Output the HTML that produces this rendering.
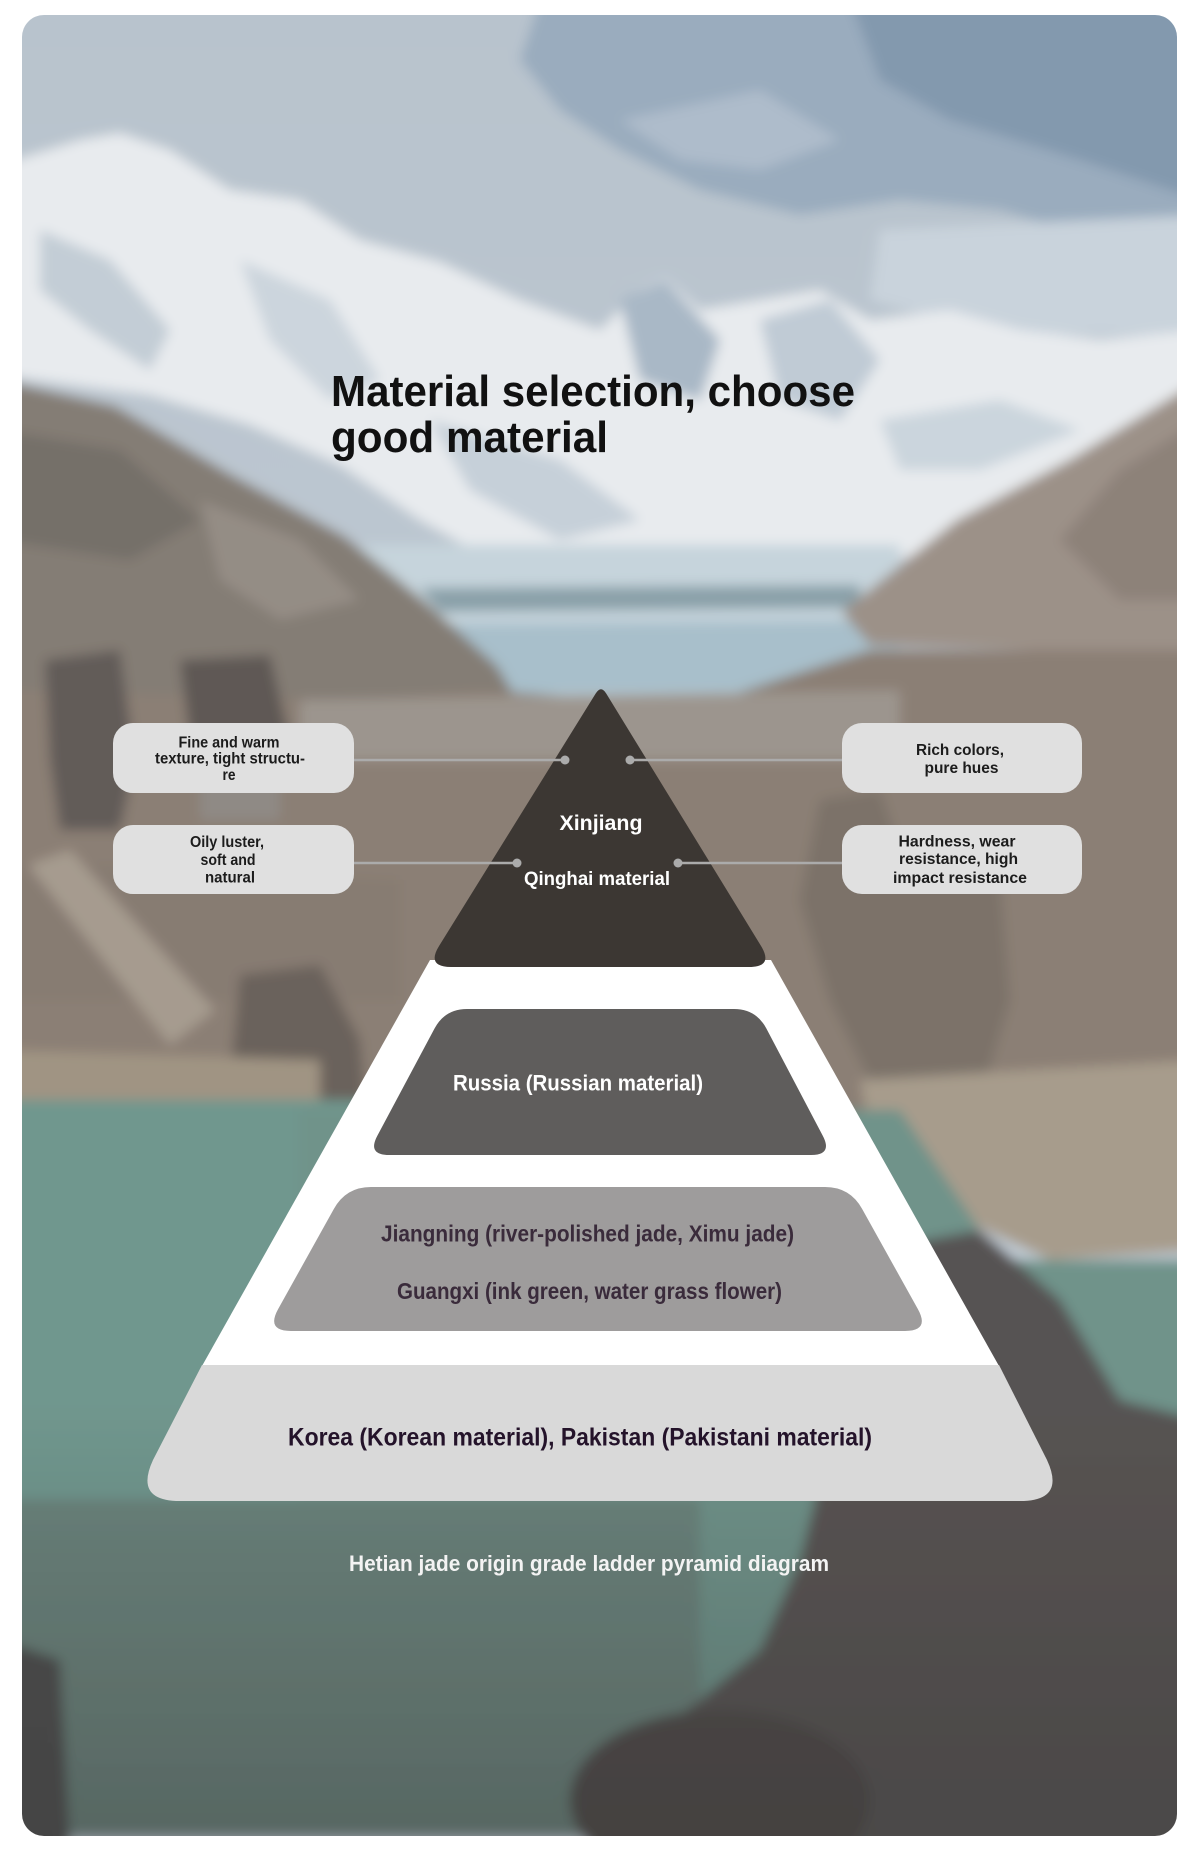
<!DOCTYPE html>
<html><head><meta charset="utf-8"><style>
html,body{margin:0;padding:0;background:#fff;}
svg{display:block;}
text{font-family:"Liberation Sans",Arial,sans-serif;font-weight:bold;}
</style></head><body>
<svg width="1200" height="1849" viewBox="0 0 1200 1849" xmlns="http://www.w3.org/2000/svg">
<defs>
<clipPath id="card"><rect x="22" y="15" width="1155" height="1821" rx="22" ry="22"/></clipPath>
<filter id="soft" x="-5%" y="-5%" width="110%" height="110%"><feGaussianBlur stdDeviation="6"/></filter>
<linearGradient id="dark" x1="0" y1="0" x2="0" y2="1">
<stop offset="0" stop-color="#333" stop-opacity="0"/>
<stop offset="1" stop-color="#333" stop-opacity="0.35"/>
</linearGradient>
<linearGradient id="sky" x1="0" y1="0" x2="0" y2="1">
<stop offset="0" stop-color="#b8c3cd"/>
<stop offset="1" stop-color="#c4ced7"/>
</linearGradient>
</defs>

<g clip-path="url(#card)">
<g filter="url(#soft)">
<rect x="0" y="0" width="1200" height="1849" fill="url(#sky)"/>
<!-- clouds -->
<polygon points="540,0 1200,0 1200,250 1100,240 1000,210 900,200 800,215 700,190 620,150 560,110 520,60" fill="#9aacbe"/>
<polygon points="850,0 1200,0 1200,200 1080,160 950,120 880,80" fill="#8399ae"/>
<polygon points="620,120 760,90 840,140 760,170 680,160" fill="#aebccb"/>
<!-- light cloud right -->
<polygon points="880,230 1200,215 1200,335 1000,335 870,300" fill="#c9d3dc"/>
<!-- snow -->
<polygon points="0,165 80,140 120,133 170,150 230,190 300,200 360,240 440,262 520,300 600,330 640,290 665,278 700,310 760,300 820,290 870,320 950,310 1020,330 1100,340 1200,330 1200,390 1090,450 1000,520 900,560 800,585 700,585 600,595 500,565 420,520 340,465 250,425 150,395 0,375" fill="#e8ebee"/>
<!-- snow shading -->
<polygon points="40,230 110,260 170,330 150,370 90,330 40,290" fill="#c3cdd6"/>
<polygon points="240,260 330,300 380,380 330,400 270,340" fill="#ccd5dd"/>
<polygon points="620,300 665,280 720,340 700,400 640,380" fill="#a9b8c6"/>
<polygon points="760,320 830,300 880,360 840,420 780,400" fill="#c0cbd5"/>
<polygon points="430,420 560,460 640,520 560,540 470,490" fill="#c6d0d9"/>
<polygon points="880,420 1000,400 1080,430 980,470 900,470" fill="#cbd5dd"/>
<!-- lake -->
<polygon points="360,545 900,545 900,710 360,710" fill="#c6d4dc"/>
<polygon points="420,588 860,585 860,608 440,612" fill="#8aa0a9"/>
<polygon points="380,625 900,620 900,690 380,695" fill="#a8bfcb"/>
<!-- left rock -->
<polygon points="0,380 115,406 230,474 344,536 429,605 497,666 520,705 0,705" fill="#847d75"/>
<polygon points="0,430 120,450 200,520 130,560 0,540" fill="#756f69"/>
<polygon points="200,500 300,540 360,600 280,620 220,580" fill="#948d85"/>
<!-- right rock -->
<polygon points="1200,380 1071,459 957,520 842,612 870,645 1200,655" fill="#9c9188"/>
<polygon points="1200,420 1120,470 1060,540 1120,600 1200,600" fill="#8d8279"/>
<!-- ground -->
<polygon points="0,690 360,700 480,690 700,705 870,650 1200,650 1200,1110 0,1110" fill="#8b7f74"/>
<polygon points="300,700 900,690 900,760 300,760" fill="#9c958e"/>
<polygon points="0,860 400,880 400,1000 0,1000" fill="#877c72"/>
<!-- figures left -->
<polygon points="45,660 120,650 135,760 120,830 60,830 50,760" fill="#625c58"/>
<polygon points="180,660 270,655 290,740 240,770 190,740" fill="#5e5854"/>
<polygon points="200,750 280,750 280,820 200,820" fill="#8f8a85"/>
<!-- wooden board -->
<polygon points="28,865 70,850 215,1010 170,1045" fill="#a69b8f"/>
<!-- bottom left person -->
<polygon points="240,975 320,965 360,1040 370,1150 340,1270 280,1280 250,1200 230,1080" fill="#6a625b"/>
<polygon points="120,1230 250,1215 260,1275 150,1290" fill="#5d5550"/>
<!-- left rocks -->
<polygon points="0,1050 320,1060 320,1100 0,1100" fill="#a09483"/>
<!-- right figure -->
<polygon points="820,800 880,790 900,850 1000,880 1010,1000 980,1100 880,1100 830,1000 800,900" fill="#7b7269"/>
<!-- right rocks -->
<polygon points="860,1080 1200,1060 1200,1250 1050,1260 880,1180" fill="#a79c8c"/>
<!-- water -->
<polygon points="0,1100 420,1100 300,1836 0,1836" fill="#70978e"/>
<polygon points="300,1110 900,1110 1000,1260 1200,1260 1200,1836 300,1836" fill="#6f938a"/>
<polygon points="0,1500 700,1500 700,1836 0,1836" fill="#6a827b"/>
<!-- right dark figure -->
<polygon points="830,1330 870,1250 980,1230 1060,1300 1120,1400 1200,1420 1200,1849 600,1849 620,1760 700,1700 760,1650 800,1560 820,1480" fill="#575352"/>
<ellipse cx="720" cy="1800" rx="150" ry="90" fill="#4d4948"/>
<polygon points="0,1640 60,1660 70,1849 0,1849" fill="#4c4c4c"/>
<rect x="0" y="1400" width="1200" height="449" fill="url(#dark)"/>
</g>
</g>

<!-- title -->
<text x="331" y="406" font-size="44" fill="#111" textLength="524" lengthAdjust="spacingAndGlyphs">Material selection, choose</text>
<text x="331" y="452" font-size="44" fill="#111" textLength="277" lengthAdjust="spacingAndGlyphs">good material</text>

<!-- white pyramid body -->
<path d="M430,960 L771,960 L999,1366 L202,1366 Z" fill="#ffffff"/>
<!-- top tier -->
<path d="M595.7,693.5 Q601,685 606.2,693.5 L760.9,945.7 Q774,967 749,967 L451,967 Q426,967 439.2,945.8 Z" fill="#3c3733"/>
<!-- Russia tier -->
<path d="M467,1009 L734,1009 Q756,1009 766.3,1028.4 L822.7,1135.6 Q833,1155 811,1155 L389,1155 Q367,1155 377.4,1135.6 L434.6,1028.4 Q445,1009 467,1009 Z" fill="#5f5d5c"/>
<!-- Jiangning tier -->
<path d="M371,1187 L825,1187 Q850,1187 862.1,1208.9 L917.9,1309.1 Q930,1331 905,1331 L291,1331 Q266,1331 278.1,1309.1 L333.9,1208.9 Q346,1187 371,1187 Z" fill="#9e9c9c"/>
<!-- Korea tier -->
<path d="M202,1365 L999,1365 L1047,1460 Q1066,1501 1020,1501 L180,1501 Q134,1501 153,1460 Z" fill="#d9d9d9"/>

<!-- connectors -->
<g stroke="#ababab" stroke-width="2.5">
<line x1="354" y1="760" x2="565" y2="760"/>
<line x1="630" y1="760" x2="842" y2="760"/>
<line x1="354" y1="863" x2="517" y2="863"/>
<line x1="678" y1="863" x2="842" y2="863"/>
</g>
<g fill="#ababab">
<circle cx="565" cy="760" r="4.5"/>
<circle cx="630" cy="760" r="4.5"/>
<circle cx="517" cy="863" r="4.5"/>
<circle cx="678" cy="863" r="4.5"/>
</g>

<!-- boxes -->
<g fill="#e0e0e0">
<rect x="113" y="723" width="241" height="70" rx="20"/>
<rect x="113" y="825" width="241" height="69" rx="20"/>
<rect x="842" y="723" width="240" height="70" rx="20"/>
<rect x="842" y="825" width="240" height="69" rx="20"/>
</g>
<g fill="#1c1c1c" text-anchor="middle">
<text x="229" y="747.5" font-size="15.5" textLength="101" lengthAdjust="spacingAndGlyphs">Fine and warm</text>
<text x="230" y="763.5" font-size="15.5" textLength="150" lengthAdjust="spacingAndGlyphs">texture, tight structu-</text>
<text x="229" y="780" font-size="15.5" textLength="13" lengthAdjust="spacingAndGlyphs">re</text>
<text x="227" y="847" font-size="15.5" textLength="74" lengthAdjust="spacingAndGlyphs">Oily luster,</text>
<text x="228" y="865" font-size="15.5" textLength="55" lengthAdjust="spacingAndGlyphs">soft and</text>
<text x="230" y="882.5" font-size="15.5" textLength="50" lengthAdjust="spacingAndGlyphs">natural</text>
<text x="960" y="755" font-size="16" textLength="88" lengthAdjust="spacingAndGlyphs">Rich colors,</text>
<text x="961.5" y="773" font-size="16" textLength="74" lengthAdjust="spacingAndGlyphs">pure hues</text>
<text x="957" y="846.5" font-size="16" textLength="117" lengthAdjust="spacingAndGlyphs">Hardness, wear</text>
<text x="958.5" y="864" font-size="16" textLength="119" lengthAdjust="spacingAndGlyphs">resistance, high</text>
<text x="960" y="883" font-size="16" textLength="134" lengthAdjust="spacingAndGlyphs">impact resistance</text>
</g>

<!-- tier labels -->
<g text-anchor="middle">
<text x="601" y="830" font-size="21" fill="#ffffff" textLength="83" lengthAdjust="spacingAndGlyphs">Xinjiang</text>
<text x="597" y="885" font-size="19" fill="#ffffff" textLength="146" lengthAdjust="spacingAndGlyphs">Qinghai material</text>
<text x="578" y="1090.5" font-size="22" fill="#ffffff" textLength="250" lengthAdjust="spacingAndGlyphs">Russia (Russian material)</text>
<text x="587.5" y="1241.5" font-size="23" fill="#3a2b3b" textLength="413" lengthAdjust="spacingAndGlyphs">Jiangning (river-polished jade, Ximu jade)</text>
<text x="589.5" y="1299" font-size="23" fill="#3a2b3b" textLength="385" lengthAdjust="spacingAndGlyphs">Guangxi (ink green, water grass flower)</text>
<text x="580" y="1445.5" font-size="25" fill="#24132a" textLength="584" lengthAdjust="spacingAndGlyphs">Korea (Korean material), Pakistan (Pakistani material)</text>
<text x="589" y="1571" font-size="22" fill="#f3f3f3" textLength="480" lengthAdjust="spacingAndGlyphs">Hetian jade origin grade ladder pyramid diagram</text>
</g>
</svg>
</body></html>
